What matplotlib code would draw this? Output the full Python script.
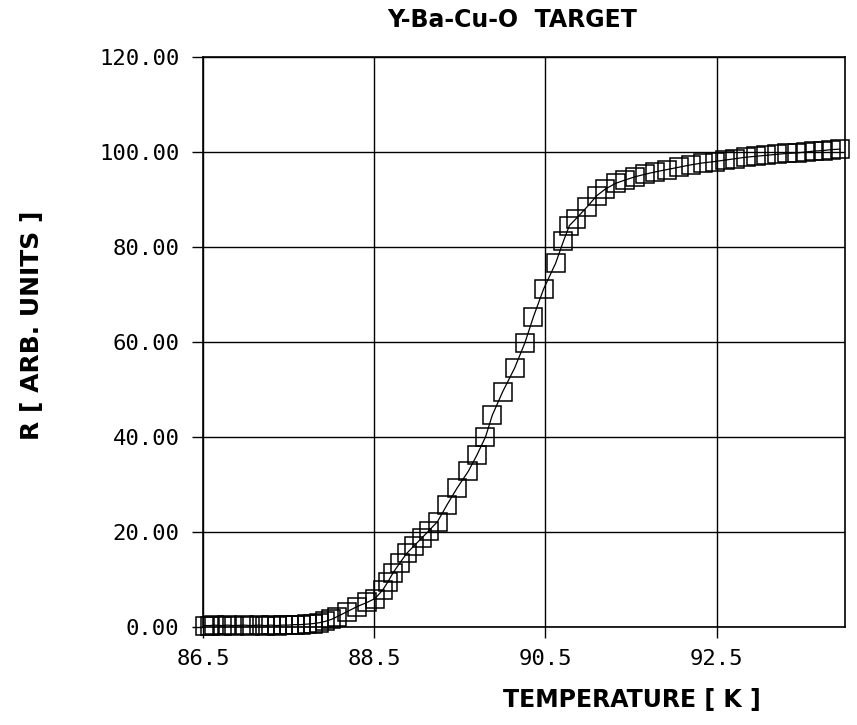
import matplotlib
matplotlib.use("Agg")
import matplotlib.pyplot as plt

# ---- DATA ----
temp_k = [86.52, 86.58, 86.63, 86.72, 86.78, 86.86, 86.98, 87.05, 87.16, 87.22,
          87.29, 87.36, 87.43, 87.50, 87.57, 87.64, 87.71, 87.78, 87.86, 87.93,
          88.00, 88.07, 88.18, 88.30, 88.42, 88.51, 88.60, 88.66, 88.72, 88.80,
          88.88, 88.96, 89.06, 89.14, 89.24, 89.35, 89.47, 89.60, 89.70, 89.80,
          89.88, 90.00, 90.14, 90.26, 90.36, 90.48, 90.62, 90.71, 90.78, 90.86,
          90.99, 91.10, 91.20, 91.32, 91.43, 91.55, 91.66, 91.78, 91.92, 92.06,
          92.20, 92.34, 92.48, 92.60, 92.72, 92.84, 92.96, 93.08, 93.20, 93.32,
          93.44, 93.54, 93.64, 93.74, 93.84, 93.94]
resist = [0.3, 0.3, 0.4, 0.3, 0.4, 0.3, 0.4, 0.3, 0.4, 0.3,
          0.4, 0.3, 0.4, 0.4, 0.5, 0.5, 0.6, 0.7, 0.9, 1.2,
          1.6, 2.2, 3.2, 4.3, 5.2, 6.0, 7.8, 9.5, 11.4, 13.5,
          15.5, 17.0, 18.8, 20.3, 22.2, 25.7, 29.3, 32.8, 36.2, 40.0,
          44.6, 49.5, 54.5, 59.8, 65.3, 71.2, 76.6, 81.2, 84.5, 86.0,
          88.5, 90.8, 92.2, 93.4, 94.1, 94.8, 95.3, 95.8, 96.3, 96.8,
          97.3, 97.7, 98.0, 98.3, 98.6, 98.9, 99.1, 99.3, 99.5, 99.7,
          99.8, 100.0, 100.2, 100.3, 100.5, 100.6]

x_ticks = [86.5, 88.5, 90.5, 92.5]
x_ticklabels = ["86.5", "88.5", "90.5", "92.5"]
y_ticks = [0, 20, 40, 60, 80, 100, 120]
y_ticklabels = ["0.00", "20.00", "40.00", "60.00", "80.00", "100.00", "120.00"]

# ---- FIGURE ----
fig = plt.figure(figsize=(8.57, 7.25), dpi=100, facecolor="white")
ax = fig.add_axes([203 / 857, 98 / 725, 642 / 857, 570 / 725])

# squares overhang the frame in the original, so no clipping
ax.plot(temp_k, resist, color="black", linewidth=0.9,
        marker="s", markersize=13, markerfacecolor="none",
        markeredgecolor="black", markeredgewidth=1.1, clip_on=False)

ax.set_xlim(86.5, 94.0)
ax.set_ylim(0, 120)
ax.set_xticks(x_ticks)
ax.set_xticklabels(x_ticklabels)
ax.set_yticks(y_ticks)
ax.set_yticklabels(y_ticklabels)

ax.grid(True, color="black", linewidth=1.0)
ax.set_axisbelow(True)
for side in ax.spines.values():
    side.set_linewidth(1.2)
    side.set_color("black")

ax.tick_params(axis="both", direction="out", length=8, width=1.0,
               labelsize=16, colors="black")
ax.tick_params(axis="y", pad=9)
ax.tick_params(axis="x", pad=8)
for lbl in ax.get_xticklabels() + ax.get_yticklabels():
    lbl.set_family("DejaVu Sans Mono")

fig.text(512 / 857, 1 - 20 / 725, "Y-Ba-Cu-O  TARGET", ha="center", va="center",
         fontsize=17, fontweight="bold", family="DejaVu Sans")
fig.text(632 / 857, 1 - 700 / 725, "TEMPERATURE [ K ]", ha="center", va="center",
         fontsize=17, fontweight="bold", family="DejaVu Sans")
fig.text(32 / 857, 1 - 325 / 725, "R [ ARB. UNITS ]", ha="center", va="center",
         rotation=90, fontsize=18, fontweight="bold", family="DejaVu Sans")

plt.savefig("out.png", dpi=100, facecolor="white")
plt.close()
